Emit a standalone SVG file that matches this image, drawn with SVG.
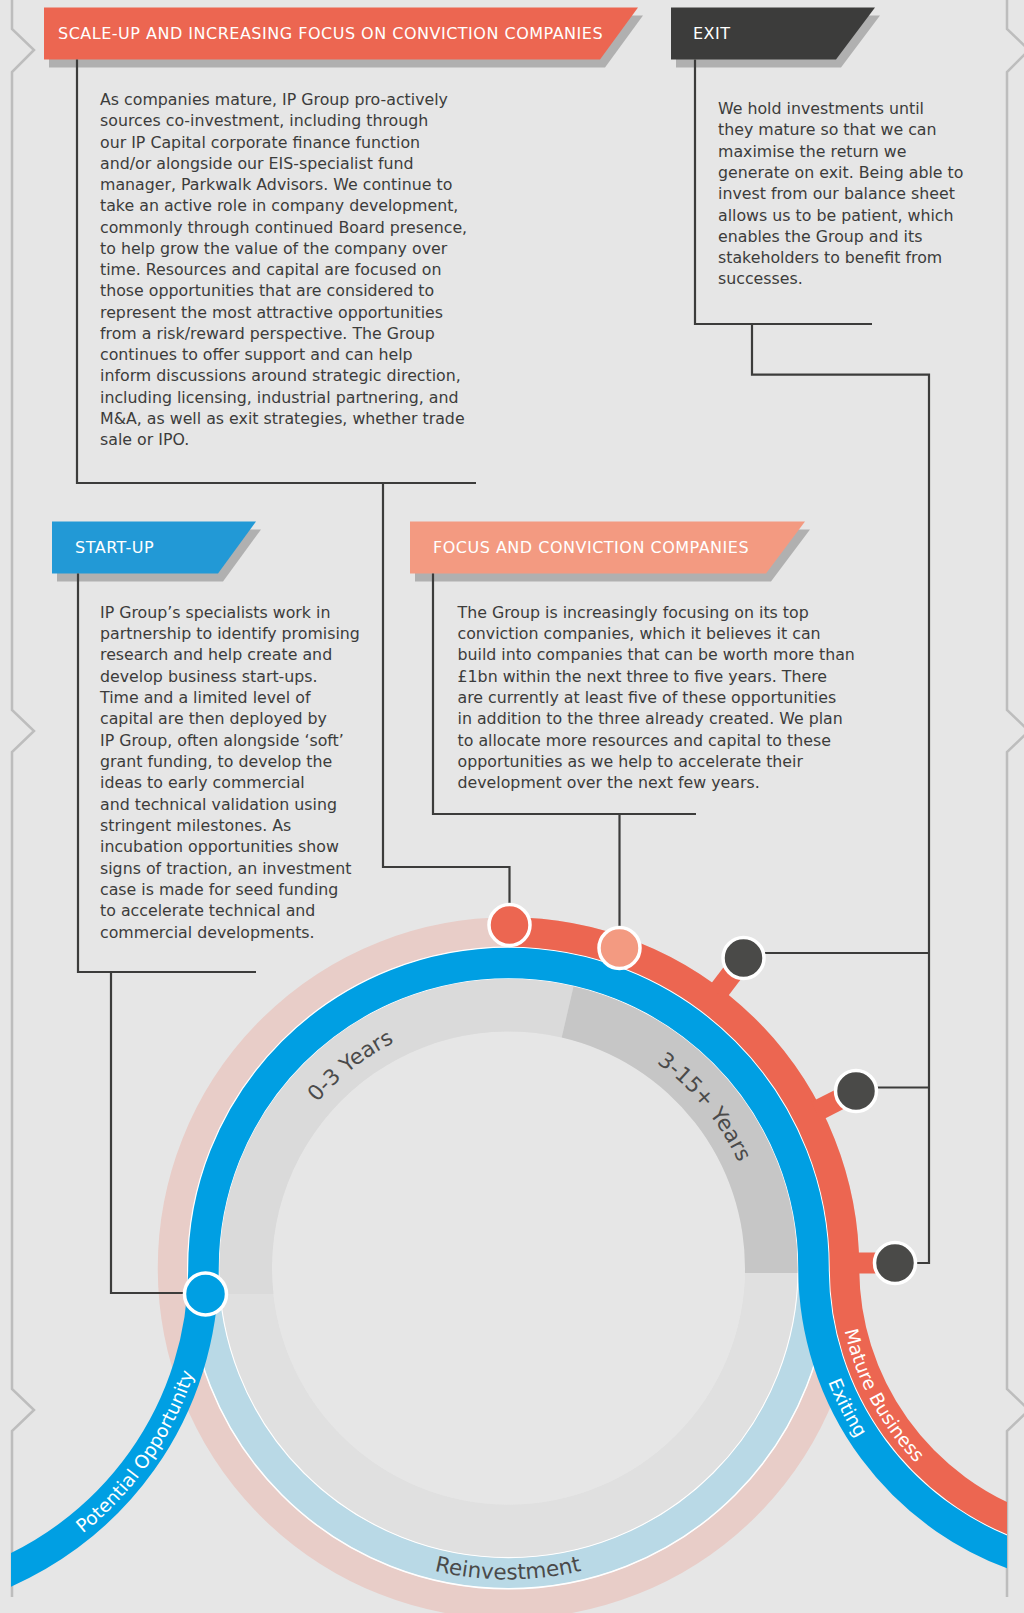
<svg xmlns="http://www.w3.org/2000/svg" width="1024" height="1613" viewBox="0 0 1024 1613">
<defs>
<style>
.body{font-family:"DejaVu Sans","Liberation Sans",sans-serif;font-size:15.8px;fill:#3c3c3b}
.ttl{font-family:"DejaVu Sans","Liberation Sans",sans-serif;font-size:16px;letter-spacing:0.5px;fill:#fff}
.conn{fill:none;stroke:#3c3c3b;stroke-width:2.2}
.node{stroke:#fff;stroke-width:3.5}
.shadow{fill:#b0b0b0}
.ringlbl{font-family:"DejaVu Sans","Liberation Sans",sans-serif;font-size:21.5px;fill:#4a4a4a}
.bandlbl{font-family:"DejaVu Sans","Liberation Sans",sans-serif;font-size:18.5px;fill:#fff}
.border{fill:none;stroke:#bdbdbd;stroke-width:2.5}
.stub{stroke:#ec6651;stroke-width:21;fill:none}
</style>
<clipPath id="clipBands"><rect x="11" y="0" width="996" height="1613"/></clipPath>
<path id="p03" d="M 257.39 1237.17 A 253 253 0 0 1 539.33 1016.89"/>
<path id="p315" d="M 533.19 1016.21 A 253 253 0 0 1 760.29 1292.69"/>
<path id="pre" d="M 287.9 1488.6 A 312 312 0 0 0 728.1 1488.6"/>
<path id="ppo" d="M -39.5 1595.87 A 340 340 0 0 0 209.02 1236.3"/>
<path id="pex" d="M 814.19 1199.14 A 312 312 0 0 0 997.85 1555.73"/>
<path id="pmb" d="M 843.24 1211.5 A 281 281 0 0 0 1015.06 1529.27"/>
</defs>

<rect x="0" y="0" width="1024" height="1613" fill="#e6e6e6"/>

<g id="borders">
<polyline class="border" points="12,0 12,29 34,50 12,72 12,710 34,731 12,752 12,1389 34,1410 12,1431 12,1597"/>
<polyline class="border" points="1007,0 1007,29 1029,50 1007,72 1007,710 1029,731 1007,752 1007,1389 1029,1410 1007,1431 1007,1597"/>
</g>

<g id="cycle">
<circle cx="508.5" cy="1268" r="336" fill="none" stroke="#e8cdc8" stroke-width="29.5"/>
<circle cx="508.5" cy="1268" r="305" fill="none" stroke="#b9d9e6" stroke-width="30.5"/>
<circle cx="508.5" cy="1268" r="320.75" fill="none" stroke="#fff" stroke-width="1.5"/>
<circle cx="508.5" cy="1268" r="289.4" fill="none" stroke="#fff" stroke-width="1.5"/>
<circle cx="508.5" cy="1268" r="262.75" fill="none" stroke="#e0e0e0" stroke-width="52.5"/>
<circle cx="508.5" cy="1268" r="236.5" fill="#e6e6e6"/>
<path d="M 220.67 1294 A 289 289 0 0 1 573.51 986.41 L 561.7 1037.56 A 236.5 236.5 0 0 0 273.43 1294 Z" fill="#dadada"/>
<path d="M 573.51 986.41 A 289 289 0 0 1 797.46 1273 L 744.95 1273 A 236.5 236.5 0 0 0 561.7 1037.56 Z" fill="#c6c6c6"/>
<text class="ringlbl"><textPath href="#p03" startOffset="50%" text-anchor="middle">0-3 Years</textPath></text>
<text class="ringlbl"><textPath href="#p315" startOffset="50%" text-anchor="middle">3-15+ Years</textPath></text>
<text class="ringlbl"><textPath href="#pre" startOffset="50%" text-anchor="middle" dx="3">Reinvestment</textPath></text>
<g clip-path="url(#clipBands)">
<path d="M 829.25 1268 A 289.25 289.25 0 0 0 1030 1543.38" fill="none" stroke="#fff" stroke-width="1.5"/>
<path d="M -20 1582.5 A 333 333 0 0 0 203.5 1268 A 305 305 0 0 1 813.5 1268 A 305 305 0 0 0 1030 1559.9" fill="none" stroke="#009fe3" stroke-width="30.5"/>
<path d="M 508.5 932 A 336 336 0 0 1 844.5 1268 A 274 274 0 0 0 1030 1527.3" fill="none" stroke="#ec6651" stroke-width="29.5"/>
</g>
<line class="stub" x1="717.1" y1="993.2" x2="738.2" y2="965.3"/>
<line class="stub" x1="815.9" y1="1111.4" x2="847.1" y2="1095.5"/>
<line class="stub" x1="850" y1="1263" x2="880" y2="1263"/>
<text class="bandlbl"><textPath href="#ppo" startOffset="50%" text-anchor="middle">Potential Opportunity</textPath></text>
<text class="bandlbl"><textPath href="#pex" startOffset="50%" text-anchor="middle">Exiting</textPath></text>
<text class="bandlbl"><textPath href="#pmb" startOffset="50%" text-anchor="middle">Mature Business</textPath></text>
</g>

<g id="scaleup">
<polygon class="shadow" points="49,15.5 643,15.5 605,67.5 49,67.5"/>
<polygon fill="#ec6651" points="44,7.5 638,7.5 600,59.5 44,59.5"/>
<text class="ttl" x="58" y="39">SCALE-UP AND INCREASING FOCUS ON CONVICTION COMPANIES</text>
<text class="body">
<tspan x="100" y="105">As companies mature, IP Group pro-actively</tspan>
<tspan x="100" y="126.25">sources co-investment, including through</tspan>
<tspan x="100" y="147.5">our IP Capital corporate finance function</tspan>
<tspan x="100" y="168.75">and/or alongside our EIS-specialist fund</tspan>
<tspan x="100" y="190">manager, Parkwalk Advisors. We continue to</tspan>
<tspan x="100" y="211.25">take an active role in company development,</tspan>
<tspan x="100" y="232.5">commonly through continued Board presence,</tspan>
<tspan x="100" y="253.75">to help grow the value of the company over</tspan>
<tspan x="100" y="275">time. Resources and capital are focused on</tspan>
<tspan x="100" y="296.25">those opportunities that are considered to</tspan>
<tspan x="100" y="317.5">represent the most attractive opportunities</tspan>
<tspan x="100" y="338.75">from a risk/reward perspective. The Group</tspan>
<tspan x="100" y="360">continues to offer support and can help</tspan>
<tspan x="100" y="381.25">inform discussions around strategic direction,</tspan>
<tspan x="100" y="402.5">including licensing, industrial partnering, and</tspan>
<tspan x="100" y="423.75">M&amp;A, as well as exit strategies, whether trade</tspan>
<tspan x="100" y="445">sale or IPO.</tspan>
</text>
</g>

<g id="exit">
<polygon class="shadow" points="676,15.5 880,15.5 841,67.5 676,67.5"/>
<polygon fill="#3c3c3b" points="671,7.5 875,7.5 836,59.5 671,59.5"/>
<text class="ttl" x="693" y="39">EXIT</text>
<text class="body">
<tspan x="718" y="114">We hold investments until</tspan>
<tspan x="718" y="135.3">they mature so that we can</tspan>
<tspan x="718" y="156.6">maximise the return we</tspan>
<tspan x="718" y="177.9">generate on exit. Being able to</tspan>
<tspan x="718" y="199.2">invest from our balance sheet</tspan>
<tspan x="718" y="220.5">allows us to be patient, which</tspan>
<tspan x="718" y="241.8">enables the Group and its</tspan>
<tspan x="718" y="263.1">stakeholders to benefit from</tspan>
<tspan x="718" y="284.4">successes.</tspan>
</text>
</g>

<g id="startup">
<polygon class="shadow" points="57,529.5 261,529.5 223,581.5 57,581.5"/>
<polygon fill="#2299d6" points="52,521.5 256,521.5 218,573.5 52,573.5"/>
<text class="ttl" x="75" y="553">START-UP</text>
<text class="body">
<tspan x="100" y="617.5">IP Group’s specialists work in</tspan>
<tspan x="100" y="638.85">partnership to identify promising</tspan>
<tspan x="100" y="660.2">research and help create and</tspan>
<tspan x="100" y="681.55">develop business start-ups.</tspan>
<tspan x="100" y="702.9">Time and a limited level of</tspan>
<tspan x="100" y="724.25">capital are then deployed by</tspan>
<tspan x="100" y="745.6">IP Group, often alongside ‘soft’</tspan>
<tspan x="100" y="766.95">grant funding, to develop the</tspan>
<tspan x="100" y="788.3">ideas to early commercial</tspan>
<tspan x="100" y="809.65">and technical validation using</tspan>
<tspan x="100" y="831">stringent milestones. As</tspan>
<tspan x="100" y="852.35">incubation opportunities show</tspan>
<tspan x="100" y="873.7">signs of traction, an investment</tspan>
<tspan x="100" y="895.05">case is made for seed funding</tspan>
<tspan x="100" y="916.4">to accelerate technical and</tspan>
<tspan x="100" y="937.75">commercial developments.</tspan>
</text>
</g>

<g id="focus">
<polygon class="shadow" points="415,529.5 810,529.5 771,581.5 415,581.5"/>
<polygon fill="#f39a81" points="410,521.5 805,521.5 766,573.5 410,573.5"/>
<text class="ttl" x="433" y="553">FOCUS AND CONVICTION COMPANIES</text>
<text class="body">
<tspan x="457.5" y="617.5">The Group is increasingly focusing on its top</tspan>
<tspan x="457.5" y="638.85">conviction companies, which it believes it can</tspan>
<tspan x="457.5" y="660.2">build into companies that can be worth more than</tspan>
<tspan x="457.5" y="681.55">£1bn within the next three to five years. There</tspan>
<tspan x="457.5" y="702.9">are currently at least five of these opportunities</tspan>
<tspan x="457.5" y="724.25">in addition to the three already created. We plan</tspan>
<tspan x="457.5" y="745.6">to allocate more resources and capital to these</tspan>
<tspan x="457.5" y="766.95">opportunities as we help to accelerate their</tspan>
<tspan x="457.5" y="788.3">development over the next few years.</tspan>
</text>
</g>

<g id="connectors">
<path class="conn" d="M 77 59.5 V 483 H 476"/>
<path class="conn" d="M 383 483 V 867 H 509.5 V 905"/>
<path class="conn" d="M 695 59.5 V 324 H 872"/>
<path class="conn" d="M 752 324 V 374.6 H 929 V 1263 H 915"/>
<path class="conn" d="M 760 953 H 929"/>
<path class="conn" d="M 872 1087.5 H 929"/>
<path class="conn" d="M 433 573.5 V 814 H 696"/>
<path class="conn" d="M 619.5 814 V 928"/>
<path class="conn" d="M 78 573.5 V 972 H 256"/>
<path class="conn" d="M 111 972 V 1293 H 186"/>
</g>

<g id="node-scaleup-point"><circle class="node" cx="509.5" cy="925" r="20.5" fill="#ec6651"/></g>
<g id="node-focus-point"><circle class="node" cx="619.5" cy="948" r="20.5" fill="#f39a81"/></g>
<g id="node-exit-1"><circle class="node" cx="743.5" cy="958" r="20.5" fill="#4a4a48"/></g>
<g id="node-exit-2"><circle class="node" cx="856" cy="1091" r="20.5" fill="#4a4a48"/></g>
<g id="node-exit-3"><circle class="node" cx="895" cy="1263" r="20.5" fill="#4a4a48"/></g>
<g id="node-startup-point"><circle class="node" cx="205.5" cy="1294" r="21" fill="#009fe3"/></g>
</svg>
